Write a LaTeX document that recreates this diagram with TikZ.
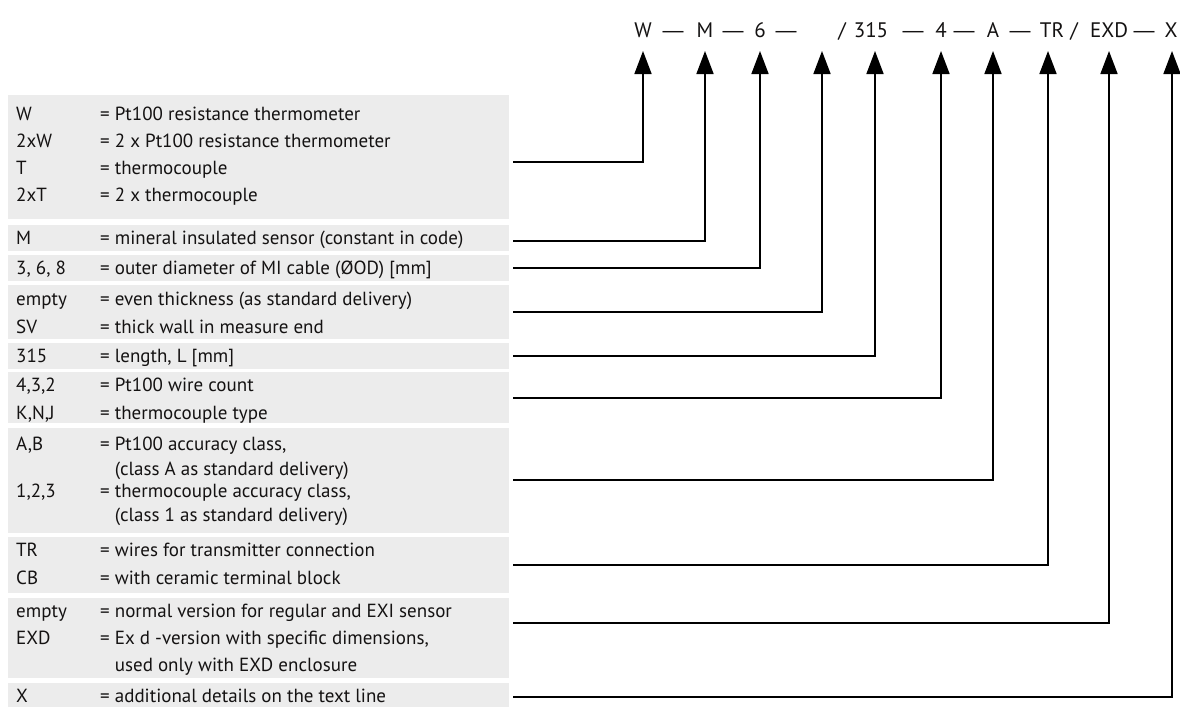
\documentclass[tikz,border=0pt]{standalone}
\usepackage{fontspec}
\setmainfont{PT Sans}
\newfontfamily\dashfont{Liberation Sans}
\usetikzlibrary{arrows.meta,positioning}
\definecolor{PanelGrey}{RGB}{236,236,236}
\definecolor{InkBlack}{RGB}{20,18,18}
\tikzset{
  lead/.style={-{Triangle[length=23pt,width=17pt]},line width=1.6pt,draw=black},
  panel/.style={fill=PanelGrey,draw=none,minimum width=501pt,inner sep=0pt,
    anchor=north west},
  key/.style={font=\fontsize{19}{22}\selectfont,text=InkBlack,inner sep=0pt,
    anchor=base west},
  code/.style={font=\fontsize{21}{25}\selectfont,text=InkBlack,inner sep=0pt,
    anchor=base},
  emrule/.style={font=\dashfont\fontsize{21}{25}\selectfont,text=InkBlack,
    inner sep=0pt,anchor=base}
}

\begin{document}
\begin{tikzpicture}[x=1pt,y=-1pt]
  \useasboundingbox (0,0) rectangle (1180,707);
  % grey panels
  \node[panel,minimum height=124pt] (pType) at (8,95) {};
  \node[panel,minimum height=26pt] (pM) at (8,225) {};
  \node[panel,minimum height=26pt] (pOD) at (8,255) {};
  \node[panel,minimum height=54pt] (pWall) at (8,285) {};
  \node[panel,minimum height=26pt] (pLen) at (8,343) {};
  \node[panel,minimum height=51pt] (pWire) at (8,372) {};
  \node[panel,minimum height=105pt] (pAcc) at (8,428) {};
  \node[panel,minimum height=56pt] (pTerm) at (8,537) {};
  \node[panel,minimum height=80pt] (pEx) at (8,598) {};
  \node[panel,minimum height=24pt] (pX) at (8,683) {};
  % key rows
  \node[key] (kW) at (16,120) {W};
  \node[key] (tW) at (100,120) {= Pt100 resistance thermometer};
  \node[key] (kWW) at (16,147) {2xW};
  \node[key] (tWW) at (100,147) {= 2 x Pt100 resistance thermometer};
  \node[key] (kT) at (16,174) {T};
  \node[key] (tT) at (100,174) {= thermocouple};
  \node[key] (kTT) at (16,201) {2xT};
  \node[key] (tTT) at (100,201) {= 2 x thermocouple};
  \node[key] (kM) at (16,244) {M};
  \node[key] (tM) at (100,244) {= mineral insulated sensor (constant in code)};
  \node[key] (kOD) at (16,274) {3, 6, 8};
  \node[key] (tOD) at (100,274) {= outer diameter of MI cable (ØOD) [mm]};
  \node[key] (kEven) at (16,305) {empty};
  \node[key] (tEven) at (100,305) {= even thickness (as standard delivery)};
  \node[key] (kSV) at (16,333) {SV};
  \node[key] (tSV) at (100,333) {= thick wall in measure end};
  \node[key] (kLen) at (16,362) {315};
  \node[key] (tLen) at (100,362) {= length, L [mm]};
  \node[key] (kWire) at (16,391) {4,3,2};
  \node[key] (tWire) at (100,391) {= Pt100 wire count};
  \node[key] (kTc) at (16,419) {K,N,J};
  \node[key] (tTc) at (100,419) {= thermocouple type};
  \node[key] (kAB) at (16,450) {A,B};
  \node[key] (tAB) at (100,450) {= Pt100 accuracy class,};
  \node[key] (tAB2) at (100,475) {\phantom{= }(class A as standard delivery)};
  \node[key] (kCls) at (16,497) {1,2,3};
  \node[key] (tCls) at (100,497) {= thermocouple accuracy class,};
  \node[key] (tCls2) at (100,521) {\phantom{= }(class 1 as standard delivery)};
  \node[key] (kTR) at (16,556) {TR};
  \node[key] (tTR) at (100,556) {= wires for transmitter connection};
  \node[key] (kCB) at (16,584) {CB};
  \node[key] (tCB) at (100,584) {= with ceramic terminal block};
  \node[key] (kNorm) at (16,617) {empty};
  \node[key] (tNorm) at (100,617) {= normal version for regular and EXI sensor};
  \node[key] (kEXD) at (16,644) {EXD};
  \node[key] (tEXD) at (100,644) {= Ex d -version with specific dimensions,};
  \node[key] (tEXD2) at (100,671) {\phantom{= }used only with EXD enclosure};
  \node[key] (kX) at (16,702) {X};
  \node[key] (tX) at (100,702) {= additional details on the text line};
  % code line
  \node[code] (cW) at (643,37) {W};
  \node[emrule] (dWM) at (673,37) {—};
  \node[code] (cM) at (705,37) {M};
  \node[emrule] (dM6) at (733,37) {—};
  \node[code] (cOD) at (760,37) {6};
  \node[emrule] (dOD) at (786,37) {—};
  \coordinate (cWall) at (822,37);
  \node[code] (sLen) at (842,37) {/};
  \node[code] (cLen) at (871,37) {315};
  \node[emrule] (dLen) at (913,37) {—};
  \node[code] (cWire) at (941,37) {4};
  \node[emrule] (dWire) at (964,37) {—};
  \node[code] (cAcc) at (993,37) {A};
  \node[emrule] (dAcc) at (1020,37) {—};
  \node[code] (cTerm) at (1052,37) {TR};
  \node[code] (sTerm) at (1074,37) {/};
  \node[code] (cEx) at (1109,37) {EXD};
  \node[emrule] (dEx) at (1144,37) {—};
  \node[code] (cX) at (1171,37) {X};
  % leads
  \draw[lead] ([xshift=4pt,yshift=-5pt]pType.east) -| ([yshift=-14pt]cW.base);
  \draw[lead] ([xshift=4pt,yshift=-3pt]pM.east) -| ([yshift=-14pt]cM.base);
  \draw[lead] ([xshift=4pt]pOD.east) -| ([yshift=-14pt]cOD.base);
  \draw[lead] ([xshift=4pt]pWall.east) -| ([yshift=-14pt]cWall);
  \draw[lead] ([xshift=4pt]pLen.east) -| ([xshift=4pt,yshift=-14pt]cLen.base);
  \draw[lead] ([xshift=4pt]pWire.east) -| ([yshift=-14pt]cWire.base);
  \draw[lead] ([xshift=4pt,yshift=1pt]pAcc.east) -| ([yshift=-14pt]cAcc.base);
  \draw[lead] ([xshift=4pt]pTerm.east) -| ([xshift=-4pt,yshift=-14pt]cTerm.base);
  \draw[lead] ([xshift=4pt,yshift=15pt]pEx.east) -| ([yshift=-14pt]cEx.base);
  \draw[lead] ([xshift=4pt,yshift=-2pt]pX.east) -| ([xshift=1pt,yshift=-14pt]cX.base);
\end{tikzpicture}
\end{document}
